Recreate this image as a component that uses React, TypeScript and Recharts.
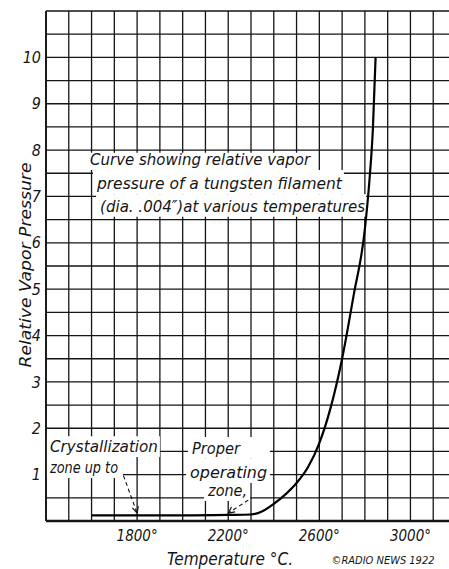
import { LineChart, Line, XAxis, YAxis, CartesianGrid, ReferenceArea, ReferenceLine, ReferenceDot, Label } from 'recharts';

// temperature (°C) vs relative vapor pressure
const TEMPS = [1600, 1800, 2000, 2200, 2300, 2350, 2400, 2450, 2500, 2550, 2600, 2650, 2700, 2750, 2800, 2820, 2835, 2847];
const PRESSURE = [0.12, 0.12, 0.12, 0.13, 0.14, 0.21, 0.37, 0.57, 0.82, 1.16, 1.68, 2.45, 3.5, 4.85, 6.3, 7.35, 8.45, 10.0];

const X_GRID = [1400, 1500, 1600, 1700, 1800, 1900, 2000, 2100, 2200, 2300, 2400, 2500, 2600, 2700, 2800, 2900, 3000, 3100, 3200];
const X_LABELS = [1800, 2200, 2600, 3000];
const Y_GRID = [0, 0.5, 1, 1.5, 2, 2.5, 3, 3.5, 4, 4.5, 5, 5.5, 6, 6.5, 7, 7.5, 8, 8.5, 9, 9.5, 10, 10.5, 11];
const Y_LABELS = [1, 2, 3, 4, 5, 6, 7, 8, 9, 10];

// text notes: each sits on a white patch that hides the grid behind it
const NOTES = [
    { text: 'Curve showing relative vapor', x1: 1576, x2: 2577, y1: 7.57, y2: 7.94, w: 220, size: 16 },
    { text: 'pressure of a tungsten filament', x1: 1606, x2: 2708, y1: 7.05, y2: 7.57, w: 245, size: 16 },
    { text: '(dia. .004″)at various temperatures', x1: 1620, x2: 2805, y1: 6.56, y2: 7.05, w: 265, size: 16 },
    { text: 'Crystallization', x1: 1400, x2: 1900, y1: 1.38, y2: 1.83, w: 108, size: 15 },
    { text: 'zone up to', x1: 1400, x2: 1738, y1: 0.93, y2: 1.38, w: 68, size: 15 },
    { text: 'Proper', x1: 2023, x2: 2383, y1: 1.34, y2: 1.81, w: 48, size: 15 },
    { text: 'operating', x1: 2015, x2: 2383, y1: 0.82, y2: 1.34, w: 77, size: 15 },
    { text: 'zone,', x1: 2094, x2: 2296, y1: 0.43, y2: 0.82, w: 39, size: 15 },
];

const ARROWS = [
    { from: { x: 1740, y: 0.98 }, to: { x: 1800, y: 0.17 }, angle: 74 },
    { from: { x: 2288, y: 0.45 }, to: { x: 2200, y: 0.17 }, angle: 144 },
];

const FONT = "'DejaVu Sans Condensed', 'DejaVu Sans', sans-serif";
const INK = '#151515';

const data = TEMPS.map((t, i) => ({ t, p: PRESSURE[i] }));

function arrowHead(angle: number) {
    return (props: any) => {
        const { cx, cy } = props;
        const a = (angle * Math.PI) / 180;
        const len = 7;
        const spread = 0.45;
        const p1x = cx - len * Math.cos(a - spread);
        const p1y = cy - len * Math.sin(a - spread);
        const p2x = cx - len * Math.cos(a + spread);
        const p2y = cy - len * Math.sin(a + spread);
        return <path d={`M${p1x},${p1y} L${cx},${cy} L${p2x},${p2y}`} stroke={INK} strokeWidth={1.2} fill="none" />;
    };
}

export default function App() {
    return (
        <div style={{ position: 'fixed', left: 0, top: 0, width: 449, height: 569, overflow: 'hidden', background: '#fff' }}>
            <LineChart width={456} height={569} data={data} margin={{ top: 11, right: 0, bottom: 0, left: 0 }}>
                <CartesianGrid stroke={INK} strokeWidth={1.3} />
                <XAxis
                    type="number"
                    dataKey="t"
                    domain={[1400, 3200]}
                    ticks={X_GRID}
                    interval={0}
                    allowDataOverflow
                    tickLine={false}
                    tickSize={0}
                    tickMargin={9}
                    axisLine={{ stroke: INK, strokeWidth: 2.5 }}
                    tickFormatter={(v: number) => (X_LABELS.includes(v) ? `${v}°` : '')}
                    tick={{ fill: INK, fontSize: 15, fontStyle: 'italic', fontFamily: FONT }}
                    height={48}
                >
                    <Label
                        content={(props: any) => {
                            const vb = props.viewBox;
                            return (
                                <g fontFamily={FONT} fontStyle="italic" fill={INK}>
                                    <text x={vb.x + 184} y={vb.y + 44} fontSize={17} textAnchor="middle" textLength={126} lengthAdjust="spacingAndGlyphs">
                                        Temperature °C.
                                    </text>
                                    <text x={vb.x + 337} y={vb.y + 43} fontSize={10} textAnchor="middle" textLength={103} lengthAdjust="spacingAndGlyphs">
                                        ©RADIO NEWS 1922
                                    </text>
                                </g>
                            );
                        }}
                    />
                </XAxis>
                <YAxis
                    type="number"
                    domain={[0, 11]}
                    ticks={Y_GRID}
                    interval={0}
                    tickLine={false}
                    tickSize={0}
                    tickMargin={5}
                    width={46}
                    axisLine={{ stroke: INK, strokeWidth: 1.8 }}
                    tickFormatter={(v: number) => (Y_LABELS.includes(v) ? `${v}` : '')}
                    tick={{ fill: INK, fontSize: 16, fontStyle: 'italic', fontFamily: FONT }}
                >
                    <Label
                        content={(props: any) => {
                            const vb = props.viewBox;
                            const cx = vb.x + 25;
                            const cy = vb.y + vb.height / 2 - 1;
                            return (
                                <text
                                    x={cx}
                                    y={cy}
                                    transform={`rotate(-90, ${cx}, ${cy})`}
                                    textAnchor="middle"
                                    dominantBaseline="central"
                                    fontSize={16}
                                    fontStyle="italic"
                                    fontFamily={FONT}
                                    fill={INK}
                                    textLength={205}
                                    lengthAdjust="spacingAndGlyphs"
                                >
                                    Relative Vapor Pressure
                                </text>
                            );
                        }}
                    />
                </YAxis>
                {NOTES.map((n) => (
                    <ReferenceArea
                        key={n.text}
                        x1={n.x1}
                        x2={n.x2}
                        y1={n.y1}
                        y2={n.y2}
                        fill="#fff"
                        fillOpacity={1}
                        stroke="none"
                        ifOverflow="visible"
                        label={(props: any) => {
                            const vb = props.viewBox;
                            return (
                                <text
                                    x={vb.x + 4}
                                    y={vb.y + vb.height - 5}
                                    fontSize={n.size}
                                    fontStyle="italic"
                                    fontFamily={FONT}
                                    fill={INK}
                                    textLength={n.w}
                                    lengthAdjust="spacingAndGlyphs"
                                >
                                    {n.text}
                                </text>
                            );
                        }}
                    />
                ))}
                {ARROWS.map((a, i) => (
                    <ReferenceLine
                        key={`arrow-${i}`}
                        segment={[a.from, a.to]}
                        stroke={INK}
                        strokeWidth={1.1}
                        strokeDasharray="4 3"
                        ifOverflow="visible"
                    />
                ))}
                {ARROWS.map((a, i) => (
                    <ReferenceDot key={`head-${i}`} x={a.to.x} y={a.to.y} r={3} ifOverflow="visible" shape={arrowHead(a.angle)} />
                ))}
                <Line
                    type="monotone"
                    dataKey="p"
                    stroke="#000"
                    strokeWidth={2.2}
                    dot={false}
                    isAnimationActive={false}
                />
            </LineChart>
        </div>
    );
}
